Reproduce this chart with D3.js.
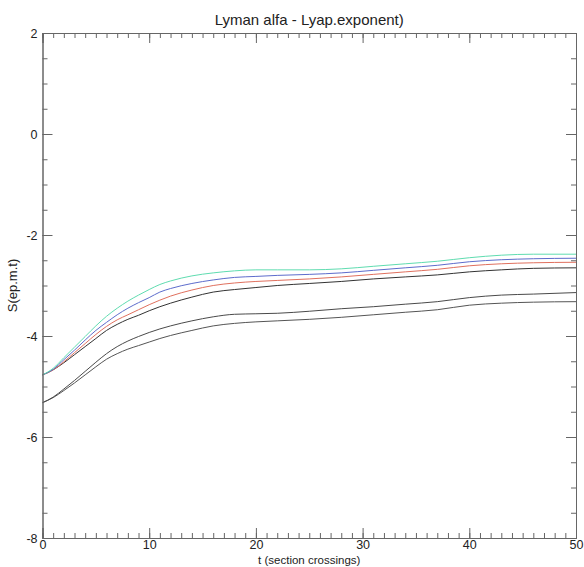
<!DOCTYPE html>
<html>
<head>
<meta charset="utf-8">
<script src="https://cdn.jsdelivr.net/npm/d3@7"></script>
<style>
  html, body { margin: 0; padding: 0; background: #fff; }
  svg { display: block; }
  text { font-family: "Liberation Sans", Arial, Helvetica, sans-serif; fill: #222; }
</style>
</head>
<body>
<svg id="chart" width="584" height="567"></svg>
<script>
// ---- data ----
const tValues = [0,1,2,3,4,5,6,7,8,9,10,11,12,14,16,18,20,22,25,28,31,34,37,40,43,46,50];
const seriesGreen  = [-4.77,-4.64,-4.43,-4.22,-4.01,-3.80,-3.61,-3.45,-3.31,-3.19,-3.08,-2.98,-2.91,-2.81,-2.75,-2.71,-2.69,-2.69,-2.69,-2.67,-2.62,-2.57,-2.52,-2.45,-2.40,-2.38,-2.38];
const seriesBlue   = [-4.77,-4.66,-4.47,-4.28,-4.08,-3.89,-3.73,-3.58,-3.45,-3.34,-3.24,-3.13,-3.06,-2.96,-2.89,-2.84,-2.82,-2.80,-2.78,-2.75,-2.70,-2.65,-2.60,-2.53,-2.49,-2.47,-2.46];
const seriesRed    = [-4.77,-4.67,-4.51,-4.33,-4.15,-3.97,-3.81,-3.68,-3.58,-3.48,-3.38,-3.29,-3.21,-3.09,-3.00,-2.95,-2.92,-2.90,-2.87,-2.83,-2.78,-2.73,-2.68,-2.61,-2.57,-2.55,-2.54];
const seriesBlack  = [-4.77,-4.67,-4.53,-4.37,-4.21,-4.05,-3.89,-3.77,-3.67,-3.59,-3.50,-3.42,-3.35,-3.23,-3.13,-3.08,-3.04,-3.00,-2.96,-2.92,-2.87,-2.83,-2.79,-2.73,-2.69,-2.66,-2.65];
const seriesLow1   = [-5.32,-5.21,-5.05,-4.88,-4.70,-4.52,-4.35,-4.21,-4.10,-4.01,-3.93,-3.86,-3.80,-3.70,-3.62,-3.57,-3.56,-3.55,-3.51,-3.46,-3.42,-3.37,-3.32,-3.24,-3.19,-3.17,-3.14];
const seriesLow2   = [-5.32,-5.22,-5.08,-4.93,-4.77,-4.61,-4.46,-4.35,-4.26,-4.19,-4.12,-4.05,-3.99,-3.89,-3.80,-3.75,-3.72,-3.70,-3.67,-3.63,-3.58,-3.53,-3.48,-3.39,-3.35,-3.33,-3.32];
const seriesColors = ["#555555","#4a4a4a","#333333","#e0705e","#5d6ccc","#5fdcb0"];
const xMajorTicks = [0,10,20,30,40,50];
const yMajorTicks = [2,0,-2,-4,-6,-8];
const titleText = "Lyman alfa - Lyap.exponent)";
const xLabel = "t (section crossings)";
const yLabel = "S(ep.m.t)";

// ---- layout ----
const svg = d3.select("#chart");
const L = 42.5, R = 576, T = 33, B = 538;
const x = d3.scaleLinear().domain([0,50]).range([L,R]);
const y = d3.scaleLinear().domain([-8,2]).range([B,T]);

const allSeries = [seriesLow2, seriesLow1, seriesBlack, seriesRed, seriesBlue, seriesGreen];
const line = d3.line().x((d,i)=>x(tValues[i])).y(d=>y(d)).curve(d3.curveMonotoneX);

svg.append("g").selectAll("path").data(allSeries).join("path")
  .attr("d", d=>line(d))
  .attr("fill","none")
  .attr("stroke",(d,i)=>seriesColors[i])
  .attr("stroke-width",1);

// axes
const axisColor = "#666";
function styleAxis(g){
  g.select(".domain").attr("stroke",axisColor).attr("stroke-width",1);
  g.selectAll(".tick line").attr("stroke",axisColor).attr("stroke-width",1);
  g.selectAll(".tick text").attr("fill","#333").style("font-size","12.5px")
   .style("font-family",'"Liberation Sans", Arial, sans-serif');
}
const fmt = d => String(d);
const xMinor = d3.range(0,51,1);
const yMinor = d3.range(-8,2.01,0.5);

// bottom
svg.append("g").attr("transform",`translate(0,${B})`)
  .call(d3.axisBottom(x).tickValues(xMinor).tickSize(-5).tickFormat(""))
  .call(styleAxis);
svg.append("g").attr("transform",`translate(0,${B})`)
  .call(d3.axisBottom(x).tickValues(xMajorTicks).tickSize(-10).tickPadding(2).tickFormat(fmt))
  .call(styleAxis);
// top
svg.append("g").attr("transform",`translate(0,${T})`)
  .call(d3.axisTop(x).tickValues(xMinor).tickSize(-5).tickFormat(""))
  .call(styleAxis);
svg.append("g").attr("transform",`translate(0,${T})`)
  .call(d3.axisTop(x).tickValues(xMajorTicks).tickSize(-10).tickFormat(""))
  .call(styleAxis);
// left
svg.append("g").attr("transform",`translate(${L},0)`)
  .call(d3.axisLeft(y).tickValues(yMinor).tickSize(-5).tickFormat(""))
  .call(styleAxis);
svg.append("g").attr("transform",`translate(${L},0)`)
  .call(d3.axisLeft(y).tickValues(yMajorTicks).tickSize(-10).tickPadding(5).tickFormat(fmt))
  .call(styleAxis);
// right
svg.append("g").attr("transform",`translate(${R},0)`)
  .call(d3.axisRight(y).tickValues(yMinor).tickSize(-5).tickFormat(""))
  .call(styleAxis);
svg.append("g").attr("transform",`translate(${R},0)`)
  .call(d3.axisRight(y).tickValues(yMajorTicks).tickSize(-10).tickFormat(""))
  .call(styleAxis);

// labels
svg.append("text").attr("x",(L+R)/2).attr("y",25).attr("text-anchor","middle")
  .style("font-size","15px").text(titleText);
svg.append("text").attr("x",(L+R)/2).attr("y",563.5).attr("text-anchor","middle")
  .style("font-size","11.5px").text(xLabel);
svg.append("text").attr("transform",`translate(17,${(T+B)/2}) rotate(-90)`)
  .attr("text-anchor","middle").style("font-size","13px").text(yLabel);
</script>
</body>
</html>
